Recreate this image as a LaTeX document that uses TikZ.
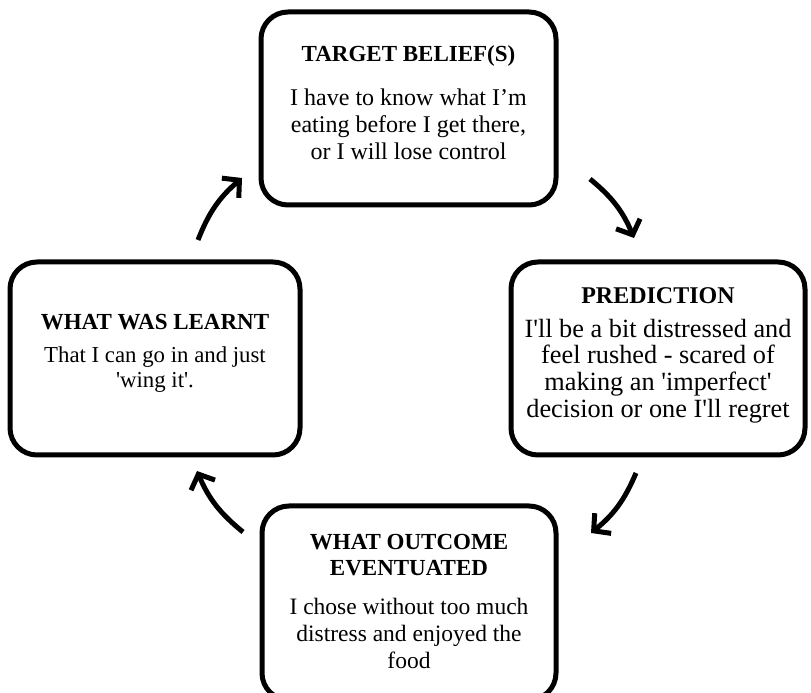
\documentclass[tikz,border=0pt]{standalone}
\usepackage{fontspec}
\setmainfont{Liberation Serif}
\usetikzlibrary{arrows.meta}
\newcommand{\sq}{\textquotesingle}
\begin{document}
\begin{tikzpicture}[x=1pt,y=1pt,
  box/.style={draw=black,line width=5pt,rounded corners=27pt,inner sep=0pt},
  ttl/.style={font=\fontsize{23}{26}\selectfont\bfseries,align=center,inner sep=0pt},
  txt/.style={font=\fontsize{23.5}{27}\selectfont,align=center,inner sep=0pt},
  cyc/.style={line width=5pt,-{Straight Barb[length=12pt,width=26pt,line width=5pt]}}]
\useasboundingbox (0,0) rectangle (811,693);
\clip (0,0) rectangle (811,693);
% boxes
\node[box,minimum width=295pt,minimum height=193pt] (top) at (408.5,584.5) {};
\node[box,minimum width=294pt,minimum height=193pt] (right) at (658,334.5) {};
\node[box,minimum width=290pt,minimum height=193pt] (left) at (155,334.5) {};
\node[box,minimum width=294pt,minimum height=194pt] (bottom) at (409,90) {};
% texts
\node[ttl] (topT) at (408.5,637) {TARGET BELIEF(S)};
\node[txt,font=\fontsize{24}{27}\selectfont] (topB) at (408.5,569) {I have to know what I’m\\eating before I get there,\\or I will lose control};
\node[ttl,font=\fontsize{24}{26}\selectfont\bfseries] (rightT) at (658,397) {PREDICTION};
\node[txt,font=\fontsize{26.3}{26.7}\selectfont] (rightB) at (658,322) {I\sq ll be a bit distressed and\\feel rushed - scared of\\making an \sq imperfect\sq\\decision or one I\sq ll regret};
\node[ttl] (leftT) at (155,371) {WHAT WAS LEARNT};
\node[txt,font=\fontsize{22.8}{25}\selectfont] (leftB) at (155,323.5) {That I can go in and just\\\sq wing it\sq .};
\node[ttl] (bottomT) at (409,137.5) {WHAT OUTCOME\\EVENTUATED};
\node[txt] (bottomB) at (409,60) {I chose without too much\\distress and enjoyed the\\food};
% arrows
\coordinate (a1s) at (198,453); \coordinate (a1e) at (242,515);
\coordinate (a2s) at (590,514); \coordinate (a2e) at (634,455);
\coordinate (a3s) at (636,220); \coordinate (a3e) at (591,160);
\coordinate (a4s) at (243,161); \coordinate (a4e) at (197,222);
\draw[cyc] (a1s) to[bend left=14] (a1e);
\draw[cyc] (a2s) to[bend left=14] (a2e);
\draw[cyc] (a3s) to[bend left=14] (a3e);
\draw[cyc] (a4s) to[bend left=14] (a4e);
\end{tikzpicture}
\end{document}
